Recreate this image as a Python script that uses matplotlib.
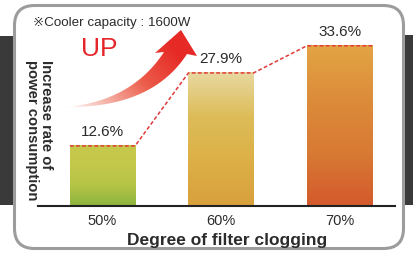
import numpy as np
import matplotlib.pyplot as plt
from matplotlib.colors import LinearSegmentedColormap
from matplotlib.patches import FancyBboxPatch, Rectangle, PathPatch
from matplotlib.path import Path

plt.rcParams['font.family'] = ['Liberation Sans', 'DejaVu Sans']

# data
categories = ['50%', '60%', '70%']
values = [12.6, 27.9, 33.6]
value_labels = ['12.6%', '27.9%', '33.6%']
x_label = 'Degree of filter clogging'
y_label = 'Increase rate of\npower consumption'
note = '※Cooler capacity : 1600W'

# bar gradients (bottom -> top)
bar_colors = [
    ['#8cb43e', '#b4c446', '#c4c84a', '#c6c84c'],
    ['#d9a03c', '#dcb046', '#ddbc58', '#e8d8a0'],
    ['#d45a2c', '#d87a34', '#dc8c3a', '#e3a444'],
]
text_color = '#2b2b2b'
red = '#e4262a'

W, H = 414, 254
fig = plt.figure(figsize=(W / 100, H / 100), dpi=100)

# background layer in pixel coordinates
bg = fig.add_axes([0, 0, 1, 1], zorder=0)
bg.set_xlim(0, W)
bg.set_ylim(H, 0)
bg.axis('off')

bg.add_patch(Rectangle((0, 36), 15, 169, color='#3a3a3a', lw=0))
bg.add_patch(Rectangle((400, 35), 14, 170, color='#3a3a3a', lw=0))
bg.add_patch(FancyBboxPatch((14.5, 5.5), 389, 243, boxstyle='round,pad=0,rounding_size=20',
                            fc='white', ec='#9c9c9c', lw=2.2))

bg.text(33, 23, note, fontsize=9.6, color=text_color, va='center', ha='left',
        family=['Liberation Sans', 'DejaVu Sans'])
bg.text(81, 49, 'UP', fontsize=19, color=red, va='center', ha='left')

# curved arrow with fading gradient
t = np.linspace(0, 1, 40)[:, None]
def bez(p0, p1, p2):
    p0, p1, p2 = map(np.array, (p0, p1, p2))
    return (1 - t) ** 2 * p0 + 2 * (1 - t) * t * p1 + t ** 2 * p2
upper = bez((66, 107), (132, 101), (164, 52))
lower = bez((66, 107), (152, 108), (187, 54))
head = np.array([[155, 53], [181, 30], [197, 56]])
outline = np.vstack([upper, head, lower[::-1]])
arrow_path = PathPatch(Path(outline), fc='none', ec='none', transform=bg.transData)
bg.add_patch(arrow_path)
gx, gy = np.meshgrid(np.linspace(60, 200, 200), np.linspace(25, 112, 120))
s = np.clip(((gx - 66) * 0.75 + (107 - gy) * 0.66) / 120, 0, 1)
cmap_arrow = LinearSegmentedColormap.from_list('arr', ['#ffffff', '#f4b0a4', '#ec5a48', '#e62a26'])
img = bg.imshow(s ** 0.9, extent=(60, 200, 112, 25), cmap=cmap_arrow, vmin=0, vmax=1,
                aspect='auto', interpolation='bilinear', zorder=3)
img.set_clip_path(arrow_path)
bg.set_xlim(0, W)
bg.set_ylim(H, 0)

fig.text(39 / W, 1 - 130 / H, y_label, rotation=-90, fontsize=10.6, fontweight='bold',
         color=text_color, ha='center', va='center', multialignment='left', linespacing=1.0)

# chart
ax = fig.add_axes([38 / W, 48 / H, 357 / W, 186 / H], zorder=1)
ax.patch.set_alpha(0)
x = np.arange(len(categories))
width = 0.55
for i, v in enumerate(values):
    cm = LinearSegmentedColormap.from_list(f'b{i}', bar_colors[i])
    grad = np.linspace(0, 1, 100)[:, None]
    ax.imshow(grad, extent=(x[i] - width / 2, x[i] + width / 2, 0, v), origin='lower',
              cmap=cm, aspect='auto', zorder=2)
    ax.annotate(value_labels[i], (x[i], v), xytext=(0, 5), textcoords='offset points',
                ha='center', va='bottom', fontsize=11, color=text_color)

lx, ly = [], []
for i, v in enumerate(values):
    lx += [x[i] - width / 2, x[i] + width / 2]
    ly += [v, v]
ax.plot(lx, ly, color='#e03a3a', lw=1.1, ls=(0, (2.5, 1.5)), zorder=3)

ax.set_xlim(-0.544, 2.468)
ax.set_ylim(0, 39)
ax.set_xticks(x)
ax.set_xticklabels(categories, fontsize=10.5, color=text_color)
ax.tick_params(axis='x', length=0, pad=6)
ax.set_yticks([])
for side in ['top', 'right', 'left']:
    ax.spines[side].set_visible(False)
ax.spines['bottom'].set_color('#222222')
ax.spines['bottom'].set_linewidth(1.5)

fig.text(227.5 / W, 1 - 240 / H, x_label, fontsize=12.5, fontweight='bold', color=text_color,
         ha='center', va='center')

fig.savefig('out.png', dpi=100)
